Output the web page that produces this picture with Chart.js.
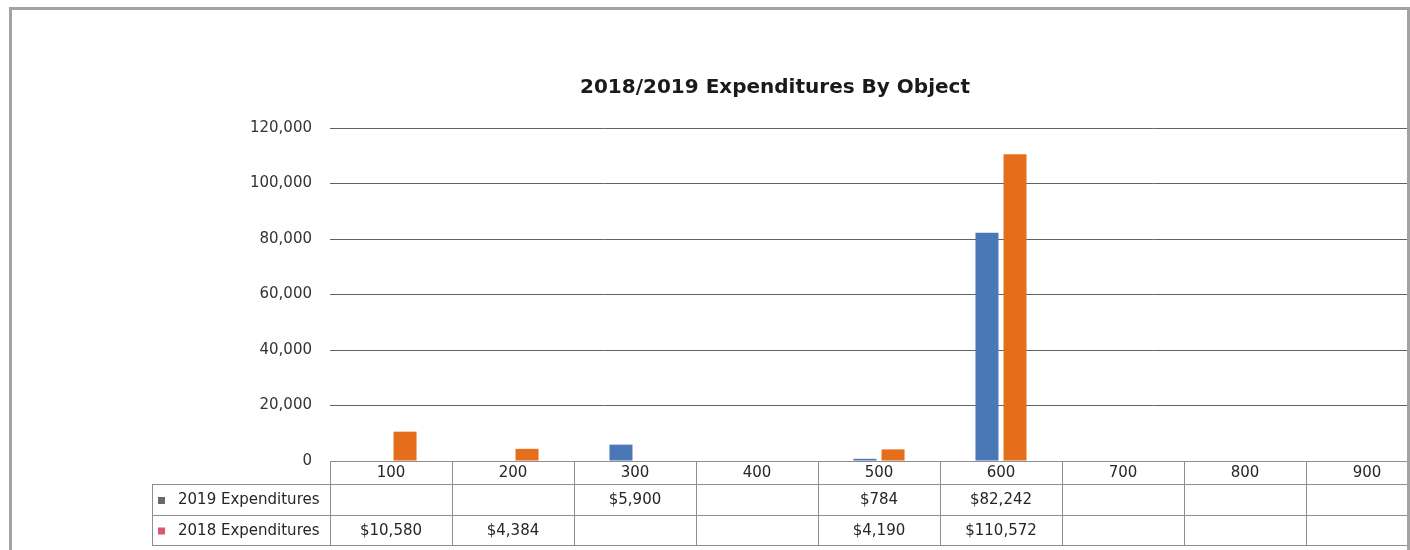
<!DOCTYPE html>
<html>
<head>
<meta charset="utf-8">
<title>2018/2019 Expenditures By Object</title>
<script src="https://cdn.jsdelivr.net/npm/chart.js@4.4.1/dist/chart.umd.min.js"></script>
<style>
  html, body { margin: 0; padding: 0; background: #ffffff; overflow: hidden; }
  #clip { position: absolute; left: 0; top: 0; width: 1407px; height: 550px; overflow: hidden; }
  #wrap { position: absolute; left: 0; top: 0; width: 1550px; height: 550px; }
  #frame {
    position: absolute; left: 9px; top: 7px; width: 1395px; height: 548px;
    border-left: 3px solid #a3a3a3; border-top: 3px solid #a3a3a3; border-right: 3px solid #a3a3a3;
    pointer-events: none;
  }
</style>
</head>
<body>
<div id="clip"><div id="wrap"><canvas id="chart"></canvas></div></div>
<div id="frame"></div>
<script>
// Object codes along the category axis
const categories = ['100', '200', '300', '400', '500', '600', '700', '800', '900'];
// Spending per object code (blank where nothing was spent)
const exp2019 = [null, null, 5900, null, 784, 82242, null, null, null];
const exp2018 = [10580, 4384, null, null, 4190, 110572, null, null, null];
const seriesNames = ['2019 Expenditures', '2018 Expenditures'];
const yTicks = [0, 20000, 40000, 60000, 80000, 100000, 120000];

const BLUE = '#4a77b6';
const ORANGE = '#e56e1d';
const keyColors = ['#6a6a6a', '#d85a6c'];
const FONT = '"DejaVu Sans", "Open Sans", sans-serif';

const money = v => '$' + v.toLocaleString('en-US');

// Data table drawn under the plot: category header row + one row per series
const dataTable = {
  id: 'dataTable',
  afterDraw(chart) {
    const ctx = chart.ctx;
    const x = chart.scales.x;
    const area = chart.chartArea;
    const rowTops = [area.bottom, area.bottom + 23, area.bottom + 54, area.bottom + 84];
    const labelLeft = 152;
    const step = x.getPixelForValue(1) - x.getPixelForValue(0);
    const left = area.left, right = area.right;

    ctx.save();
    ctx.strokeStyle = '#8e8e8e';
    ctx.lineWidth = 1;
    ctx.beginPath();
    // horizontal rules
    ctx.moveTo(left, rowTops[0] + 0.5); ctx.lineTo(right, rowTops[0] + 0.5);
    for (let r = 1; r < rowTops.length; r++) {
      ctx.moveTo(labelLeft, rowTops[r] + 0.5); ctx.lineTo(right, rowTops[r] + 0.5);
    }
    // vertical rules
    ctx.moveTo(labelLeft + 0.5, rowTops[1]); ctx.lineTo(labelLeft + 0.5, rowTops[3]);
    for (let i = 0; i <= categories.length; i++) {
      const px = Math.round(x.getPixelForValue(i) - step / 2) + 0.5;
      ctx.moveTo(px, rowTops[0]); ctx.lineTo(px, rowTops[3]);
    }
    ctx.stroke();

    ctx.fillStyle = '#262626';
    ctx.textAlign = 'center';
    ctx.textBaseline = 'middle';
    ctx.font = '15px ' + FONT;
    categories.forEach((c, i) => {
      ctx.fillText(c, x.getPixelForValue(i), (rowTops[0] + rowTops[1]) / 2 + 1);
    });

    chart.data.datasets.forEach((ds, r) => {
      const cy = (rowTops[r + 1] + rowTops[r + 2]) / 2 + 1;
      ctx.fillStyle = keyColors[r];
      ctx.fillRect(labelLeft + 6, cy - 3.5, 7, 7);
      ctx.fillStyle = '#262626';
      ctx.textAlign = 'left';
      ctx.fillText(ds.label, labelLeft + 26, cy);
      ctx.textAlign = 'center';
      ds.data.forEach((v, i) => {
        if (v != null) ctx.fillText(money(v), x.getPixelForValue(i), cy);
      });
    });
    ctx.restore();
  }
};

new Chart(document.getElementById('chart'), {
  type: 'bar',
  data: {
    labels: categories,
    datasets: [
      { label: seriesNames[0], data: exp2019, backgroundColor: BLUE },
      { label: seriesNames[1], data: exp2018, backgroundColor: ORANGE }
    ]
  },
  options: {
    responsive: true,
    maintainAspectRatio: false,
    animation: false,
    layout: { padding: { left: 122, right: 122, top: 0, bottom: 89 } },
    datasets: { bar: { categoryPercentage: 0.46, barPercentage: 0.82 } },
    plugins: {
      legend: { display: false },
      tooltip: { enabled: false },
      title: {
        display: true,
        text: '2018/2019 Expenditures By Object',
        color: '#1a1a1a',
        font: { family: FONT, size: 20, weight: 'bold', lineHeight: 1.2 },
        padding: { top: 76, bottom: 28 }
      }
    },
    scales: {
      x: { display: false },
      y: {
        min: 0,
        max: 120000,
        afterBuildTicks(axis) { axis.ticks = yTicks.map(v => ({ value: v })); },
        afterFit(axis) { axis.width = 208; },
        border: { display: false },
        grid: { color: '#626262', lineWidth: 1, drawTicks: false },
        ticks: {
          padding: 18,
          color: '#333333',
          font: { family: FONT, size: 15 },
          callback: v => v.toLocaleString('en-US')
        }
      }
    }
  },
  plugins: [dataTable]
});
</script>
</body>
</html>
